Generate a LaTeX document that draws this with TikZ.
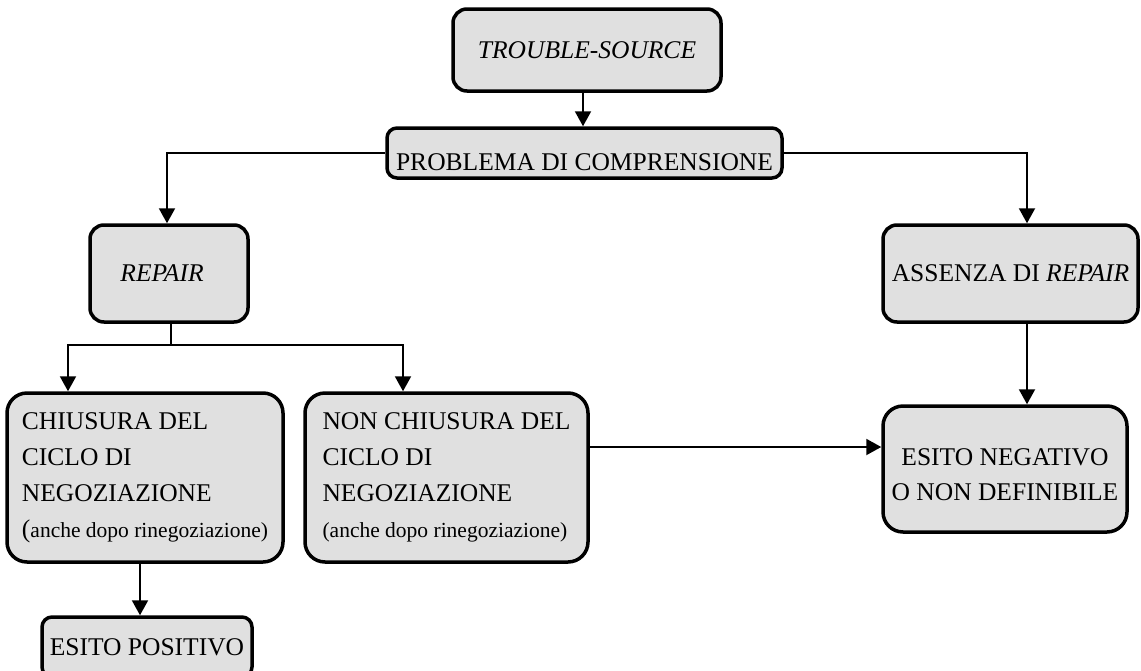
\documentclass[tikz,border=0pt]{standalone}
\usepackage{fontspec}
\setmainfont{Liberation Serif}
\usetikzlibrary{arrows.meta}
\definecolor{boxfill}{RGB}{224,224,224}
\tikzset{
  box/.style={draw=black, line width=3.5pt, fill=boxfill, rounded corners=#1,
    inner sep=0pt, font=\fontsize{25.5}{36}\selectfont},
  box/.default=14pt,
  link/.style={line width=2pt, -{Triangle[length=15pt,width=16pt]}},
  plain/.style={line width=2pt},
}
\newcommand{\smallnote}{\fontsize{21.5}{36}\selectfont}
\begin{document}
\begin{tikzpicture}[x=1pt,y=-1pt]
\useasboundingbox (0,0) rectangle (1141,670);

% boxes
\node[box, minimum width=268pt, minimum height=82pt] (src) at (587,50)
  {\itshape TROUBLE\textup{-}SOURCE};
\node[box=10pt, minimum width=395pt, minimum height=50pt] (prob) at (584.5,153)
  {\rule{0pt}{35pt}PROBLEMA DI COMPRENSIONE};
\node[box, minimum width=158pt, minimum height=97pt] (rep) at (169,273.5)
  {\hspace*{-14pt}\itshape REPAIR};
\node[box, minimum width=255pt, minimum height=97pt] (abs) at (1010.5,273.5)
  {ASSENZA DI \textit{REPAIR}};
\node[box=20pt, minimum width=276pt, minimum height=169pt, align=left] (clo) at (145,477.5)
  {CHIUSURA DEL\\CICLO DI\\NEGOZIAZIONE\\{\fontsize{25.5}{36}\selectfont(}{\smallnote anche dopo rinegoziazione)}};
\node[box=20pt, minimum width=283pt, minimum height=169pt, align=left] (noncl) at (446.5,477.5)
  {NON CHIUSURA DEL\\CICLO DI\\NEGOZIAZIONE\\{\smallnote (anche dopo rinegoziazione)}};
\node[box=20pt, minimum width=244pt, minimum height=126pt, align=center,
  font=\fontsize{25.5}{35}\selectfont] (neg) at (1005,469)
  {\rule{0pt}{28pt}ESITO NEGATIVO\\O NON DEFINIBILE};
\node[box=10pt, minimum width=210pt, minimum height=60pt] (pos) at (147,647)
  {ESITO POSITIVO};

% connectors
\draw[link] ([xshift=-4pt]src.south) -- ([xshift=-4pt]src.south |- prob.north);
\draw[link] (prob.west) -| ([xshift=-2pt]rep.north);
\draw[link] (prob.east) -| ([xshift=16.5pt]abs.north);
\coordinate (fork) at (171,345);
\draw[plain] (rep.south -| fork) -- (fork);
\draw[link] (fork) -| ([xshift=-77pt]clo.north);
\draw[link] (fork) -| ([xshift=-43.5pt]noncl.north);
\draw[link] ([xshift=-5pt]clo.south) -- ([xshift=-5pt]clo.south |- pos.north);
\draw[link] ([xshift=16.5pt]abs.south) -- ([xshift=16.5pt]abs.south |- neg.north);
\draw[link] ([yshift=30.5pt]noncl.east) -- ([yshift=30.5pt]noncl.east -| neg.west);
\end{tikzpicture}
\end{document}
